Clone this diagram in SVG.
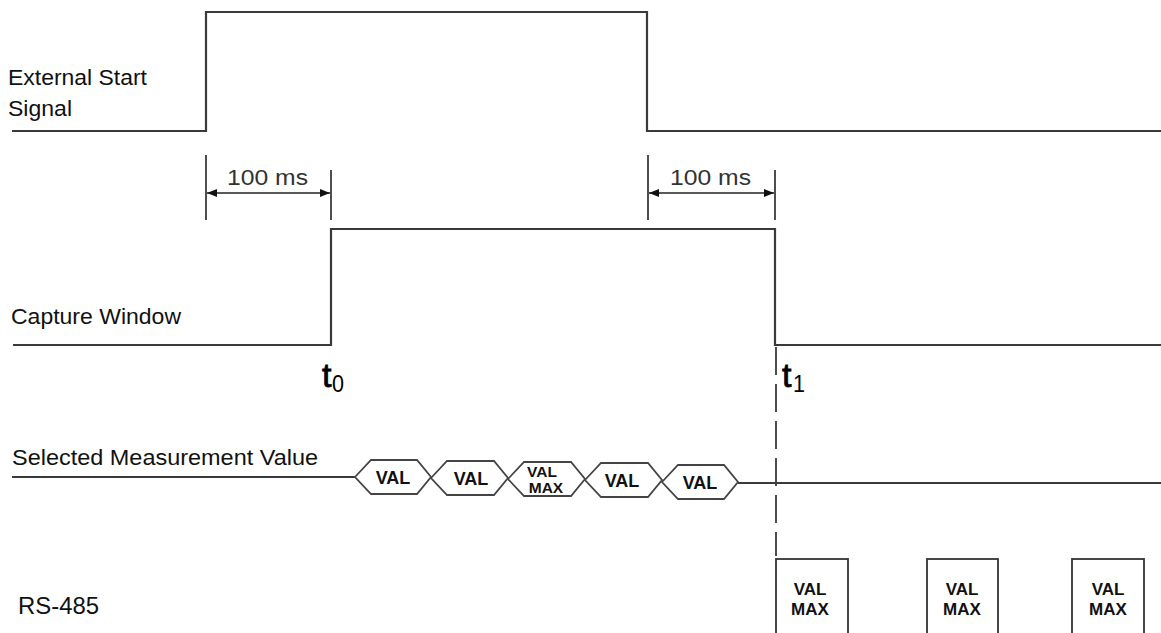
<svg xmlns="http://www.w3.org/2000/svg" width="1161" height="633" viewBox="0 0 1161 633">
<style>
  .wave{fill:none;stroke:#3a3a3a;stroke-width:2.2;stroke-linejoin:miter}
  .tick{fill:none;stroke:#222;stroke-width:1.6}
  .dim{fill:none;stroke:#222;stroke-width:1.6}
  .hex{fill:#fff;stroke:#444;stroke-width:1.8;stroke-linejoin:miter}
  .box{fill:#fff;stroke:#333;stroke-width:1.8}
  .lbl{font-family:"Liberation Sans",Arial,sans-serif;fill:#111;font-size:22px}
  .dl{font-family:"Liberation Sans",Arial,sans-serif;fill:#333;font-size:22px}
  .hv{font-family:"Liberation Sans",Arial,sans-serif;fill:#111;font-size:18px;font-weight:bold;text-anchor:middle}
  .hv2{font-family:"Liberation Sans",Arial,sans-serif;fill:#111;font-size:15.5px;font-weight:bold;text-anchor:middle}
  .bv{font-family:"Liberation Sans",Arial,sans-serif;fill:#111;font-size:17px;font-weight:bold;text-anchor:middle}
  .tt{font-family:"Liberation Sans",Arial,sans-serif;fill:#000;stroke:#000;stroke-width:0.8;font-size:34px}
  .ts{font-family:"Liberation Sans",Arial,sans-serif;fill:#000;font-size:23px}
</style>
<defs>
  <marker id="arr" viewBox="0 0 10 8" refX="10" refY="4" markerWidth="10" markerHeight="8" markerUnits="userSpaceOnUse" orient="auto-start-reverse">
    <path d="M0,0 L10,4 L0,8 Z" fill="#111"/>
  </marker>
</defs>
<rect width="1161" height="633" fill="#fff"/>

<g id="labels">
  <text class="lbl" x="8" y="85" textLength="139" lengthAdjust="spacingAndGlyphs">External Start</text>
  <text class="lbl" x="8" y="116" textLength="64" lengthAdjust="spacingAndGlyphs">Signal</text>
  <text class="lbl" x="11" y="324" textLength="170" lengthAdjust="spacingAndGlyphs">Capture Window</text>
  <text class="lbl" x="12" y="465" textLength="306" lengthAdjust="spacingAndGlyphs">Selected Measurement Value</text>
  <text class="lbl" x="18" y="614" style="font-size:24px" textLength="81" lengthAdjust="spacingAndGlyphs">RS-485</text>
</g>

<g id="external-start-signal">
  <polyline class="wave" points="12,131 206,131 206,12 647,12 647,131 1161,131"/>
</g>

<g id="capture-window">
  <polyline class="wave" points="13,345 331,345 331,229 775,229 775,345 1161,345"/>
</g>

<g id="connectors">
  <line class="tick" x1="206" y1="155" x2="206" y2="220"/>
  <line class="tick" x1="331" y1="170" x2="331" y2="220"/>
  <line class="dim" x1="207" y1="193" x2="330" y2="193" marker-start="url(#arr)" marker-end="url(#arr)"/>
  <line class="tick" x1="648" y1="155" x2="648" y2="220"/>
  <line class="tick" x1="775" y1="170" x2="775" y2="220"/>
  <line class="dim" x1="649" y1="193" x2="774" y2="193" marker-start="url(#arr)" marker-end="url(#arr)"/>
  <line x1="776" y1="347" x2="776" y2="556" stroke="#222" stroke-width="1.6" stroke-dasharray="28 9"/>
  <line class="wave" x1="12" y1="477" x2="355" y2="477"/>
  <line class="wave" x1="738" y1="483" x2="1161" y2="483"/>
</g>

<g id="dim-labels">
  <text class="dl" x="227" y="185" textLength="81" lengthAdjust="spacingAndGlyphs">100 ms</text>
  <text class="dl" x="670" y="185" textLength="81" lengthAdjust="spacingAndGlyphs">100 ms</text>
</g>

<g id="t0">
  <text class="tt" x="322" y="387">t</text>
  <text class="ts" x="332" y="392" textLength="12" lengthAdjust="spacingAndGlyphs">0</text>
</g>
<g id="t1">
  <text class="tt" x="782" y="387">t</text>
  <text class="ts" x="793" y="392" textLength="12" lengthAdjust="spacingAndGlyphs">1</text>
</g>

<g id="hex1">
  <path class="hex" d="M355,477 L371,460 L417,460 L431,477 L417,494 L371,494 Z"/>
  <text class="hv" x="393" y="484">VAL</text>
</g>
<g id="hex2">
  <path class="hex" d="M431,478 L447,461 L494,461 L508,478 L494,495 L447,495 Z"/>
  <text class="hv" x="471" y="485">VAL</text>
</g>
<g id="hex3">
  <path class="hex" d="M508,479 L524,462 L571,462 L585,479 L571,496 L524,496 Z"/>
  <text class="hv2" x="542" y="477">VAL</text>
  <text class="hv2" x="546" y="493">MAX</text>
</g>
<g id="hex4">
  <path class="hex" d="M585,480 L601,463 L648,463 L662,480 L648,497 L601,497 Z"/>
  <text class="hv" x="622" y="487">VAL</text>
</g>
<g id="hex5">
  <path class="hex" d="M662,482 L678,465 L724,465 L738,482 L724,499 L678,499 Z"/>
  <text class="hv" x="700" y="489">VAL</text>
</g>

<g id="rs485-1">
  <rect class="box" x="776" y="559" width="72" height="90"/>
  <text class="bv" x="810" y="595">VAL</text>
  <text class="bv" x="810" y="615">MAX</text>
</g>
<g id="rs485-2">
  <rect class="box" x="927" y="559" width="71" height="90"/>
  <text class="bv" x="962" y="595">VAL</text>
  <text class="bv" x="962" y="615">MAX</text>
</g>
<g id="rs485-3">
  <rect class="box" x="1072" y="559" width="72" height="90"/>
  <text class="bv" x="1108" y="595">VAL</text>
  <text class="bv" x="1108" y="615">MAX</text>
</g>
</svg>
